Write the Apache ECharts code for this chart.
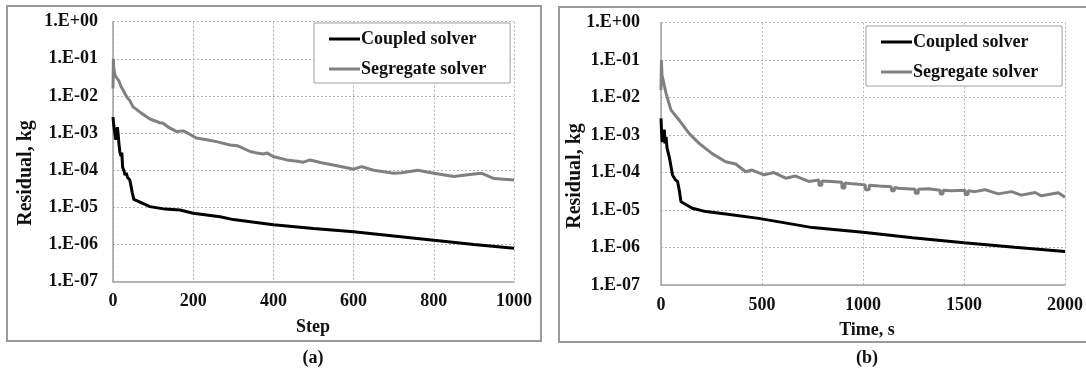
<!DOCTYPE html>
<html>
<head>
<meta charset="utf-8">
<script src="https://cdn.jsdelivr.net/npm/echarts@6/dist/echarts.min.js"></script>
<style>
html,body{margin:0;padding:0;background:#fff;}
#c{width:1086px;height:374px;}
</style>
</head>
<body>
<div id="c"></div>
<script>
// ---- data ----
const seriesNames = ['Coupled solver', 'Segregate solver'];
const yTickLabels = ['1.E-07','1.E-06','1.E-05','1.E-04','1.E-03','1.E-02','1.E-01','1.E+00'];
const xTicksA = [0, 200, 400, 600, 800, 1000];
const xTicksB = [0, 500, 1000, 1500, 2000];

// (a) residual vs step
const stepsCoupledA = [0, 2, 5, 7, 9, 11, 13, 15, 17, 20, 22, 24, 27, 30, 33, 36, 39, 42, 46, 48, 52, 70, 92, 130, 167, 200, 267, 300, 400, 500, 600, 700, 800, 900, 1000];
const coupledA = [2.7e-3, 1.6e-3, 9e-4, 6.6e-4, 1.0e-3, 1.45e-3, 9e-4, 5e-4, 3.2e-4, 2.4e-4, 3.0e-4, 1.2e-4, 1.0e-4, 7.4e-5, 8.5e-5, 6.5e-5, 6.0e-5, 5.5e-5, 5.0e-5, 2.5e-5, 1.65e-5, 1.35e-5, 1.05e-5, 9.0e-6, 8.5e-6, 7.0e-6, 5.6e-6, 4.7e-6, 3.4e-6, 2.7e-6, 2.2e-6, 1.7e-6, 1.3e-6, 1.0e-6, 7.9e-7];

const stepsSegA = [0, 1, 2, 5, 10, 15, 20, 25, 34, 42, 50, 70, 92, 117, 125, 140, 159, 175, 190, 208, 230, 258, 292, 310, 342, 360, 374, 385, 399, 433, 460, 475, 491, 520, 549, 586, 600, 620, 650, 700, 720, 760, 800, 850, 900, 920, 950, 1000];
const segA = [1.6e-2, 1.0e-1, 5.5e-2, 3.6e-2, 3.0e-2, 2.5e-2, 1.8e-2, 1.45e-2, 9.5e-3, 7.5e-3, 5.1e-3, 3.5e-3, 2.4e-3, 1.9e-3, 1.85e-3, 1.4e-3, 1.1e-3, 1.15e-3, 9.5e-4, 7.4e-4, 6.7e-4, 5.9e-4, 4.8e-4, 4.6e-4, 3.2e-4, 2.9e-4, 2.75e-4, 2.9e-4, 2.35e-4, 1.9e-4, 1.75e-4, 1.65e-4, 1.9e-4, 1.6e-4, 1.38e-4, 1.15e-4, 1.07e-4, 1.25e-4, 1.0e-4, 8.3e-5, 8.6e-5, 1.0e-4, 8.3e-5, 6.8e-5, 7.9e-5, 8.3e-5, 6.0e-5, 5.5e-5];

// (b) residual vs time
const timeCoupledB = [0, 3, 6, 9, 12, 16, 20, 25, 30, 41, 57, 70, 82, 90, 99, 155, 222, 321, 484, 750, 1000, 1245, 1500, 1750, 2000];
const coupledB = [2.8e-3, 1.2e-3, 6.5e-4, 1.1e-3, 7.0e-4, 1.4e-3, 6.0e-4, 9.0e-4, 4.5e-4, 2.6e-4, 8.7e-5, 6.5e-5, 5.8e-5, 3.5e-5, 1.66e-5, 1.12e-5, 9.1e-6, 7.8e-6, 6.0e-6, 3.4e-6, 2.55e-6, 1.82e-6, 1.35e-6, 1.02e-6, 7.8e-7];

const timeSegB = [0, 2, 5, 25, 49, 90, 140, 189, 253, 320, 370, 419, 451, 510, 559, 617, 666, 732,
  781, 782, 796, 797, 845, 895, 896, 910, 911, 950, 1011, 1012, 1030, 1031, 1080, 1140, 1141, 1155, 1156, 1176,
  1258, 1259, 1273, 1274, 1323, 1381, 1382, 1396, 1397, 1438, 1505, 1506, 1520, 1521, 1554, 1603, 1670, 1735, 1784, 1852, 1883, 1967, 2000];
const segB = [1.6e-2, 1.0e-1, 4.0e-2, 1.3e-2, 4.7e-3, 2.5e-3, 1.1e-3, 6.0e-4, 3.2e-4, 1.95e-4, 1.7e-4, 1.05e-4, 1.17e-4, 8.7e-5, 1.0e-4, 7.1e-5, 8.1e-5, 5.8e-5,
  6.3e-5, 4.6e-5, 4.6e-5, 6.0e-5, 5.8e-5, 5.5e-5, 3.9e-5, 3.9e-5, 5.3e-5, 5.0e-5, 4.7e-5, 3.5e-5, 3.5e-5, 4.6e-5, 4.4e-5, 4.2e-5, 3.3e-5, 3.3e-5, 4.0e-5, 3.8e-5,
  3.6e-5, 2.8e-5, 2.8e-5, 3.6e-5, 3.7e-5, 3.4e-5, 2.7e-5, 2.7e-5, 3.4e-5, 3.3e-5, 3.4e-5, 2.6e-5, 2.6e-5, 3.3e-5, 3.1e-5, 3.5e-5, 2.7e-5, 3.1e-5, 2.5e-5, 2.95e-5, 2.4e-5, 2.9e-5, 2.2e-5];

// ---- chart ----
const FONT = '"Liberation Serif", "Times New Roman", serif';
const chart = echarts.init(document.getElementById('c'), null, {renderer: 'canvas'});
const pairs = (xs, ys) => xs.map((x, i) => [x, ys[i]]);
const yFmt = v => {
  const e = Math.round(Math.log10(v));
  return yTickLabels[e + 7] || '';
};
const gridLine = {show: true, lineStyle: {color: '#b8b8b8', type: [2, 2], width: 1}};
const axisLine = {show: true, onZero: false, lineStyle: {color: '#a0a0a0', width: 1.5}};
const labelStyle = {color: '#111', fontFamily: FONT, fontWeight: 'bold', fontSize: 18};

function xAxisDef(idx, ticks, margin) {
  return {
    type: 'value', gridIndex: idx, min: ticks[0], max: ticks[ticks.length - 1],
    interval: ticks[1] - ticks[0], position: 'bottom',
    axisLine: axisLine, axisTick: {show: false}, splitLine: gridLine,
    axisLabel: Object.assign({margin: margin, formatter: v => String(v)}, labelStyle)
  };
}
function yAxisDef(idx, margin) {
  return {
    type: 'log', logBase: 10, gridIndex: idx, min: 1e-7, max: 1,
    axisLine: axisLine, axisTick: {show: false}, splitLine: gridLine,
    axisLabel: Object.assign({margin: margin, formatter: yFmt}, labelStyle)
  };
}
function legendDef(left, top) {
  return {
    left: left, top: top, orient: 'vertical',
    data: seriesNames, icon: 'rect', itemWidth: 31, itemHeight: 3, itemGap: 12,
    borderColor: '#a0a0a0', borderWidth: 1, padding: [7, 24, 5, 15],
    backgroundColor: '#fff',
    textStyle: {color: '#111', fontFamily: FONT, fontWeight: 'bold', fontSize: 18, padding: [0, 0, 0, -4]},
    selectedMode: false
  };
}
function lineSeries(name, xi, data, color) {
  return {
    name: name, type: 'line', xAxisIndex: xi, yAxisIndex: xi, data: data,
    showSymbol: false, symbol: 'none', color: color,
    lineStyle: {color: color, width: 3}, z: color === '#000' ? 4 : 3
  };
}
function txt(x, y, s, size, rot) {
  return {
    type: 'text', x: x, y: y, rotation: rot || 0,
    style: {text: s, fill: '#111', font: 'bold ' + size + 'px ' + FONT, textAlign: 'center', textVerticalAlign: 'middle'}
  };
}

chart.setOption({
  animation: false,
  backgroundColor: '#fff',
  grid: [
    {left: 113, top: 21.7, width: 401, height: 260},
    {left: 661, top: 22.7, width: 406, height: 262.3}
  ],
  xAxis: [xAxisDef(0, xTicksA, 11), xAxisDef(1, xTicksB, 11)],
  yAxis: [yAxisDef(0, 15), yAxisDef(1, 21)],
  legend: [legendDef(314, 23), legendDef(866, 26)],
  series: [
    lineSeries(seriesNames[1], 0, pairs(stepsSegA, segA), '#808080'),
    lineSeries(seriesNames[0], 0, pairs(stepsCoupledA, coupledA), '#000'),
    lineSeries(seriesNames[1], 1, pairs(timeSegB, segB), '#808080'),
    lineSeries(seriesNames[0], 1, pairs(timeCoupledB, coupledB), '#000')
  ],
  graphic: [
    {type: 'rect', shape: {x: 7, y: 6, width: 534, height: 335}, style: {fill: 'none', stroke: '#9a9a9a', lineWidth: 2}},
    {type: 'rect', shape: {x: 559, y: 7, width: 540, height: 335}, style: {fill: 'none', stroke: '#9a9a9a', lineWidth: 2}},
    txt(313, 327, 'Step', 18),
    txt(313, 358, '(a)', 18),
    txt(867, 330, 'Time, s', 18),
    txt(867, 358, '(b)', 18),
    txt(26, 173, 'Residual, kg', 20, Math.PI / 2),
    txt(575, 176, 'Residual, kg', 20, Math.PI / 2)
  ]
});
</script>
</body>
</html>
